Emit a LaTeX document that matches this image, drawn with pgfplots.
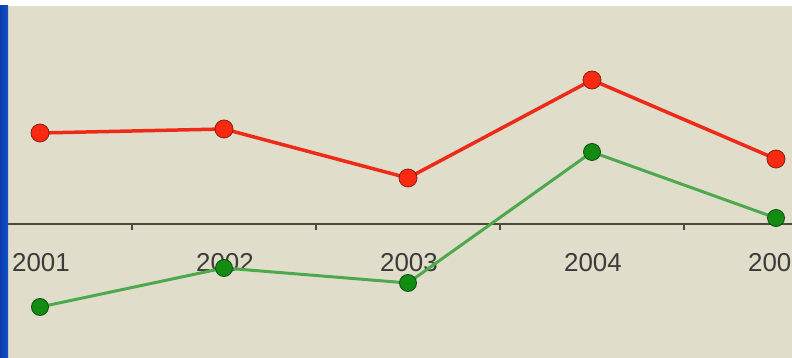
\documentclass[border=0pt]{standalone}
\usepackage{pgfplots}
\pgfplotsset{compat=1.18}
\usepackage{fontspec}
\setmainfont{Liberation Sans}
\definecolor{bg}{HTML}{E0DECA}
\definecolor{axisc}{HTML}{4A4A40}
\definecolor{redline}{HTML}{EE2A18}
\definecolor{redmark}{HTML}{FA2A12}
\definecolor{redborder}{HTML}{8A2010}
\definecolor{greenline}{HTML}{4EA84E}
\definecolor{greenmark}{HTML}{138C13}
\definecolor{greenborder}{HTML}{0A4E0A}
\definecolor{labelc}{HTML}{3C3C3C}
\definecolor{blueL}{HTML}{0A3CB0}
\definecolor{blueR}{HTML}{1552C8}
\begin{document}
\begin{tikzpicture}
\path[use as bounding box] (-8bp,0) rectangle (784bp,358bp);
\clip (-8bp,0) rectangle (784bp,358bp);
\fill[bg] (-8bp,0) rectangle (784bp,358bp);
\begin{axis}[
  anchor=south west, at={(0,0)},
  width=784bp, height=352bp, scale only axis,
  xmin=-0.1739, xmax=4.0870, ymin=-13.4, ymax=21.8,
  axis x line=middle, axis y line=none,
  x axis line style={-, draw=axisc, line width=1.3bp},
  xtick={0.5,1.5,2.5,3.5}, xticklabels={},
  tick align=outside, major tick length=6bp,
  every tick/.style={draw=axisc, line width=1.2bp},
  extra x ticks={0,1,2,3,4},
  extra x tick labels={2001,2002,2003,2004,2005},
  extra x tick style={major tick length=0pt,
    tick label style={anchor=center, xshift=1bp, yshift=-39bp, text=labelc, font=\fontsize{26}{29}\selectfont}},
  clip=false,
]
\addplot[color=greenline, line width=3bp, mark=*, mark size=8.5bp,
  mark options={fill=greenmark, draw=greenborder, line width=0.8bp}]
  coordinates {(0,-8.3) (1,-4.4) (2,-5.9) (3,7.2) (4,0.6)};
\addplot[color=redline, line width=3.5bp, mark=*, mark size=9bp,
  mark options={fill=redmark, draw=redborder, line width=0.8bp}]
  coordinates {(0,9.1) (1,9.5) (2,4.6) (3,14.4) (4,6.5)};
\end{axis}
\fill[white] (-8bp,352bp) rectangle (784bp,358bp);
\shade[left color=blueL, right color=blueR] (-8bp,0) rectangle (0,352bp);
\end{tikzpicture}
\end{document}
